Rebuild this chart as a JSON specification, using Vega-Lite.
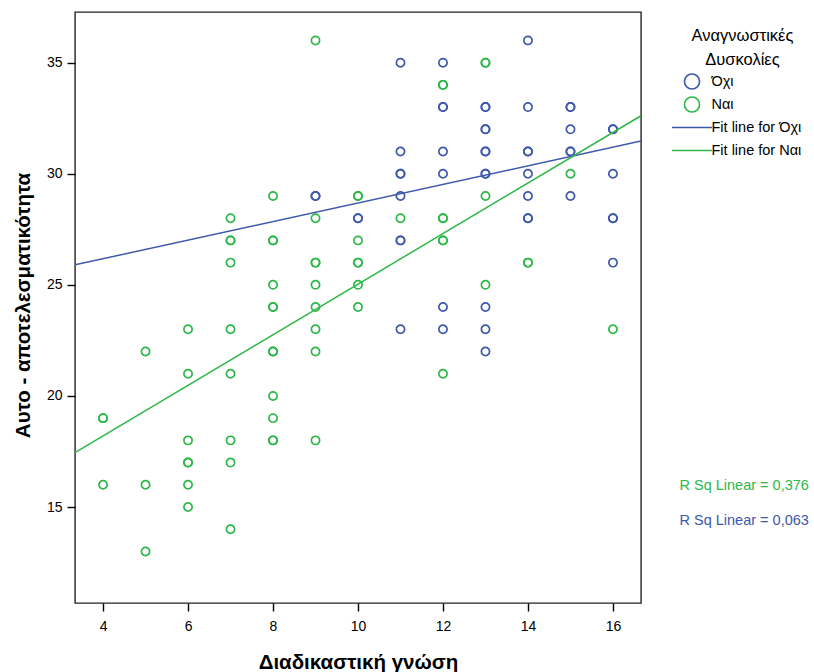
{
  "$schema": "https://vega.github.io/schema/vega-lite/v6.json",
  "autosize": {"type": "none"},
  "width": 566,
  "height": 591,
  "padding": {"left": 75, "top": 12, "right": 173, "bottom": 69},
  "background": "#ffffff",
  "config": {
    "font": "Liberation Sans",
    "view": {"fill": "#f0f0f0", "stroke": "#222222", "strokeWidth": 1.4},
    "axis": {
      "grid": false,
      "domain": false,
      "tickColor": "#000000",
      "tickWidth": 1.4,
      "tickSize": 8,
      "labelFont": "Liberation Sans",
      "labelFontSize": 14,
      "labelColor": "#000000",
      "titleFont": "Liberation Sans",
      "titleFontSize": 20.5,
      "titleFontWeight": "bold",
      "titleColor": "#000000"
    }
  },
  "datasets": {
    "scores": [
      {"knowledge": 4, "efficacy": 19, "group": "Ναι"},
      {"knowledge": 4, "efficacy": 19, "group": "Ναι"},
      {"knowledge": 4, "efficacy": 16, "group": "Ναι"},
      {"knowledge": 5, "efficacy": 22, "group": "Ναι"},
      {"knowledge": 5, "efficacy": 16, "group": "Ναι"},
      {"knowledge": 5, "efficacy": 13, "group": "Ναι"},
      {"knowledge": 6, "efficacy": 23, "group": "Ναι"},
      {"knowledge": 6, "efficacy": 21, "group": "Ναι"},
      {"knowledge": 6, "efficacy": 18, "group": "Ναι"},
      {"knowledge": 6, "efficacy": 17, "group": "Ναι"},
      {"knowledge": 6, "efficacy": 17, "group": "Ναι"},
      {"knowledge": 6, "efficacy": 16, "group": "Ναι"},
      {"knowledge": 6, "efficacy": 15, "group": "Ναι"},
      {"knowledge": 7, "efficacy": 28, "group": "Ναι"},
      {"knowledge": 7, "efficacy": 27, "group": "Ναι"},
      {"knowledge": 7, "efficacy": 27, "group": "Ναι"},
      {"knowledge": 7, "efficacy": 26, "group": "Ναι"},
      {"knowledge": 7, "efficacy": 23, "group": "Ναι"},
      {"knowledge": 7, "efficacy": 21, "group": "Ναι"},
      {"knowledge": 7, "efficacy": 18, "group": "Ναι"},
      {"knowledge": 7, "efficacy": 17, "group": "Ναι"},
      {"knowledge": 7, "efficacy": 14, "group": "Ναι"},
      {"knowledge": 8, "efficacy": 29, "group": "Ναι"},
      {"knowledge": 8, "efficacy": 27, "group": "Ναι"},
      {"knowledge": 8, "efficacy": 27, "group": "Ναι"},
      {"knowledge": 8, "efficacy": 25, "group": "Ναι"},
      {"knowledge": 8, "efficacy": 24, "group": "Ναι"},
      {"knowledge": 8, "efficacy": 24, "group": "Ναι"},
      {"knowledge": 8, "efficacy": 22, "group": "Ναι"},
      {"knowledge": 8, "efficacy": 22, "group": "Ναι"},
      {"knowledge": 8, "efficacy": 20, "group": "Ναι"},
      {"knowledge": 8, "efficacy": 19, "group": "Ναι"},
      {"knowledge": 8, "efficacy": 18, "group": "Ναι"},
      {"knowledge": 8, "efficacy": 18, "group": "Ναι"},
      {"knowledge": 9, "efficacy": 36, "group": "Ναι"},
      {"knowledge": 9, "efficacy": 28, "group": "Ναι"},
      {"knowledge": 9, "efficacy": 26, "group": "Ναι"},
      {"knowledge": 9, "efficacy": 26, "group": "Ναι"},
      {"knowledge": 9, "efficacy": 25, "group": "Ναι"},
      {"knowledge": 9, "efficacy": 24, "group": "Ναι"},
      {"knowledge": 9, "efficacy": 23, "group": "Ναι"},
      {"knowledge": 9, "efficacy": 22, "group": "Ναι"},
      {"knowledge": 9, "efficacy": 18, "group": "Ναι"},
      {"knowledge": 10, "efficacy": 29, "group": "Ναι"},
      {"knowledge": 10, "efficacy": 29, "group": "Ναι"},
      {"knowledge": 10, "efficacy": 27, "group": "Ναι"},
      {"knowledge": 10, "efficacy": 26, "group": "Ναι"},
      {"knowledge": 10, "efficacy": 26, "group": "Ναι"},
      {"knowledge": 10, "efficacy": 25, "group": "Ναι"},
      {"knowledge": 10, "efficacy": 24, "group": "Ναι"},
      {"knowledge": 11, "efficacy": 28, "group": "Ναι"},
      {"knowledge": 12, "efficacy": 34, "group": "Ναι"},
      {"knowledge": 12, "efficacy": 34, "group": "Ναι"},
      {"knowledge": 12, "efficacy": 28, "group": "Ναι"},
      {"knowledge": 12, "efficacy": 28, "group": "Ναι"},
      {"knowledge": 12, "efficacy": 27, "group": "Ναι"},
      {"knowledge": 12, "efficacy": 27, "group": "Ναι"},
      {"knowledge": 12, "efficacy": 21, "group": "Ναι"},
      {"knowledge": 13, "efficacy": 35, "group": "Ναι"},
      {"knowledge": 13, "efficacy": 35, "group": "Ναι"},
      {"knowledge": 13, "efficacy": 29, "group": "Ναι"},
      {"knowledge": 13, "efficacy": 25, "group": "Ναι"},
      {"knowledge": 14, "efficacy": 26, "group": "Ναι"},
      {"knowledge": 14, "efficacy": 26, "group": "Ναι"},
      {"knowledge": 15, "efficacy": 30, "group": "Ναι"},
      {"knowledge": 16, "efficacy": 23, "group": "Ναι"},
      {"knowledge": 9, "efficacy": 29, "group": "Όχι"},
      {"knowledge": 9, "efficacy": 29, "group": "Όχι"},
      {"knowledge": 10, "efficacy": 28, "group": "Όχι"},
      {"knowledge": 10, "efficacy": 28, "group": "Όχι"},
      {"knowledge": 11, "efficacy": 35, "group": "Όχι"},
      {"knowledge": 11, "efficacy": 31, "group": "Όχι"},
      {"knowledge": 11, "efficacy": 30, "group": "Όχι"},
      {"knowledge": 11, "efficacy": 30, "group": "Όχι"},
      {"knowledge": 11, "efficacy": 29, "group": "Όχι"},
      {"knowledge": 11, "efficacy": 27, "group": "Όχι"},
      {"knowledge": 11, "efficacy": 27, "group": "Όχι"},
      {"knowledge": 11, "efficacy": 23, "group": "Όχι"},
      {"knowledge": 12, "efficacy": 35, "group": "Όχι"},
      {"knowledge": 12, "efficacy": 33, "group": "Όχι"},
      {"knowledge": 12, "efficacy": 33, "group": "Όχι"},
      {"knowledge": 12, "efficacy": 31, "group": "Όχι"},
      {"knowledge": 12, "efficacy": 30, "group": "Όχι"},
      {"knowledge": 12, "efficacy": 24, "group": "Όχι"},
      {"knowledge": 12, "efficacy": 23, "group": "Όχι"},
      {"knowledge": 13, "efficacy": 33, "group": "Όχι"},
      {"knowledge": 13, "efficacy": 33, "group": "Όχι"},
      {"knowledge": 13, "efficacy": 32, "group": "Όχι"},
      {"knowledge": 13, "efficacy": 32, "group": "Όχι"},
      {"knowledge": 13, "efficacy": 31, "group": "Όχι"},
      {"knowledge": 13, "efficacy": 31, "group": "Όχι"},
      {"knowledge": 13, "efficacy": 30, "group": "Όχι"},
      {"knowledge": 13, "efficacy": 30, "group": "Όχι"},
      {"knowledge": 13, "efficacy": 24, "group": "Όχι"},
      {"knowledge": 13, "efficacy": 23, "group": "Όχι"},
      {"knowledge": 13, "efficacy": 22, "group": "Όχι"},
      {"knowledge": 14, "efficacy": 36, "group": "Όχι"},
      {"knowledge": 14, "efficacy": 33, "group": "Όχι"},
      {"knowledge": 14, "efficacy": 31, "group": "Όχι"},
      {"knowledge": 14, "efficacy": 31, "group": "Όχι"},
      {"knowledge": 14, "efficacy": 30, "group": "Όχι"},
      {"knowledge": 14, "efficacy": 29, "group": "Όχι"},
      {"knowledge": 14, "efficacy": 28, "group": "Όχι"},
      {"knowledge": 14, "efficacy": 28, "group": "Όχι"},
      {"knowledge": 15, "efficacy": 33, "group": "Όχι"},
      {"knowledge": 15, "efficacy": 33, "group": "Όχι"},
      {"knowledge": 15, "efficacy": 32, "group": "Όχι"},
      {"knowledge": 15, "efficacy": 31, "group": "Όχι"},
      {"knowledge": 15, "efficacy": 31, "group": "Όχι"},
      {"knowledge": 15, "efficacy": 29, "group": "Όχι"},
      {"knowledge": 16, "efficacy": 32, "group": "Όχι"},
      {"knowledge": 16, "efficacy": 32, "group": "Όχι"},
      {"knowledge": 16, "efficacy": 30, "group": "Όχι"},
      {"knowledge": 16, "efficacy": 28, "group": "Όχι"},
      {"knowledge": 16, "efficacy": 28, "group": "Όχι"},
      {"knowledge": 16, "efficacy": 26, "group": "Όχι"}
    ],
    "fits": [
      {"knowledge": 3.34, "efficacy": 25.9, "group": "Fit line for Όχι"},
      {"knowledge": 16.66, "efficacy": 31.47, "group": "Fit line for Όχι"},
      {"knowledge": 3.34, "efficacy": 17.45, "group": "Fit line for Ναι"},
      {"knowledge": 16.66, "efficacy": 32.61, "group": "Fit line for Ναι"}
    ],
    "rsq": [
      {"label": "R Sq Linear = 0,376", "group": "Ναι", "r2": 0.376},
      {"label": "R Sq Linear = 0,063", "group": "Όχι", "r2": 0.063}
    ]
  },
  "layer": [
    {
      "layer": [
        {
          "data": {"name": "scores"},
          "mark": {"type": "point", "filled": false, "size": 68, "strokeWidth": 1.7, "opacity": 1},
          "encoding": {
            "x": {
              "field": "knowledge", "type": "quantitative",
              "scale": {"domain": [3.34, 16.66], "nice": false, "zero": false},
              "axis": {"title": "Διαδικαστική γνώση", "values": [4, 6, 8, 10, 12, 14, 16], "labelPadding": 8, "titleY": 65, "titleBaseline": "alphabetic"}
            },
            "y": {
              "field": "efficacy", "type": "quantitative",
              "scale": {"domain": [10.68, 37.28], "nice": false, "zero": false},
              "axis": {"title": "Αυτο - αποτελεσματικότητα", "values": [15, 20, 25, 30, 35], "labelPadding": 5, "titleX": -46, "titleY": 293, "titleAngle": 270, "titleBaseline": "alphabetic", "titleAlign": "center"}
            },
            "color": {
              "field": "group", "type": "nominal",
              "scale": {
                "domain": ["Όχι", "Ναι", "Fit line for Όχι", "Fit line for Ναι"],
                "range": ["#3e58ac", "#2eb848", "#3e58ac", "#2eb848"]
              },
              "legend": {
                "title": ["Αναγνωστικές", "Δυσκολίες"],
                "orient": "none",
                "legendX": 608.5,
                "legendY": 15.5,
                "padding": 0,
                "titleFont": "Liberation Sans",
                "titleFontSize": 16.5,
                "titleFontWeight": "normal",
                "titleColor": "#000000",
                "titleAnchor": "middle",
                "titleAlign": "center",
                "titleLineHeight": 24,
                "titlePadding": 5,
                "symbolSize": 227,
                "symbolStrokeWidth": 1.6,
                "symbolFillColor": "transparent",
                "labelFont": "Liberation Sans",
                "labelFontSize": 14.5,
                "labelColor": "#000000",
                "labelOffset": 11,
                "rowPadding": 0
              }
            },
            "shape": {
              "field": "group", "type": "nominal",
              "scale": {
                "domain": ["Όχι", "Ναι", "Fit line for Όχι", "Fit line for Ναι"],
                "range": ["circle", "circle", "M-2.65,-1M-2.65,0H2.65M2.65,1", "M-2.65,-1M-2.65,0H2.65M2.65,1"]
              },
              "legend": {
                "title": ["Αναγνωστικές", "Δυσκολίες"],
                "orient": "none",
                "legendX": 608.5,
                "legendY": 15.5,
                "padding": 0,
                "titleFont": "Liberation Sans",
                "titleFontSize": 16.5,
                "titleFontWeight": "normal",
                "titleColor": "#000000",
                "titleAnchor": "middle",
                "titleAlign": "center",
                "titleLineHeight": 24,
                "titlePadding": 5,
                "symbolSize": 227,
                "symbolStrokeWidth": 1.6,
                "symbolFillColor": "transparent",
                "labelFont": "Liberation Sans",
                "labelFontSize": 14.5,
                "labelColor": "#000000",
                "labelOffset": 11,
                "rowPadding": 0
              }
            }
          }
        },
        {
          "data": {"name": "fits"},
          "mark": {"type": "line", "strokeWidth": 1.5, "clip": true},
          "encoding": {
            "x": {"field": "knowledge", "type": "quantitative"},
            "y": {"field": "efficacy", "type": "quantitative"},
            "color": {"field": "group", "type": "nominal"},
            "detail": {"field": "group"}
          }
        }
      ]
    },
    {
      "data": {"name": "rsq"},
      "mark": {"type": "point", "opacity": 0},
      "encoding": {
        "fill": {
          "field": "label", "type": "nominal",
          "scale": {"domain": ["R Sq Linear = 0,376", "R Sq Linear = 0,063"], "range": ["#2eb848", "#3e58ac"]},
          "legend": {
            "title": null,
            "orient": "none",
            "legendX": 590,
            "legendY": 466.5,
            "padding": 0,
            "symbolSize": 0,
            "symbolOpacity": 0,
            "labelOffset": 0,
            "labelFont": "Liberation Sans",
            "labelFontSize": 14.5,
            "labelColor": {"expr": "datum.label === 'R Sq Linear = 0,376' ? '#2eb848' : '#3e58ac'"},
            "rowPadding": 20
          }
        }
      }
    }
  ],
  "resolve": {"scale": {"color": "independent", "fill": "independent", "shape": "independent"}}
}
